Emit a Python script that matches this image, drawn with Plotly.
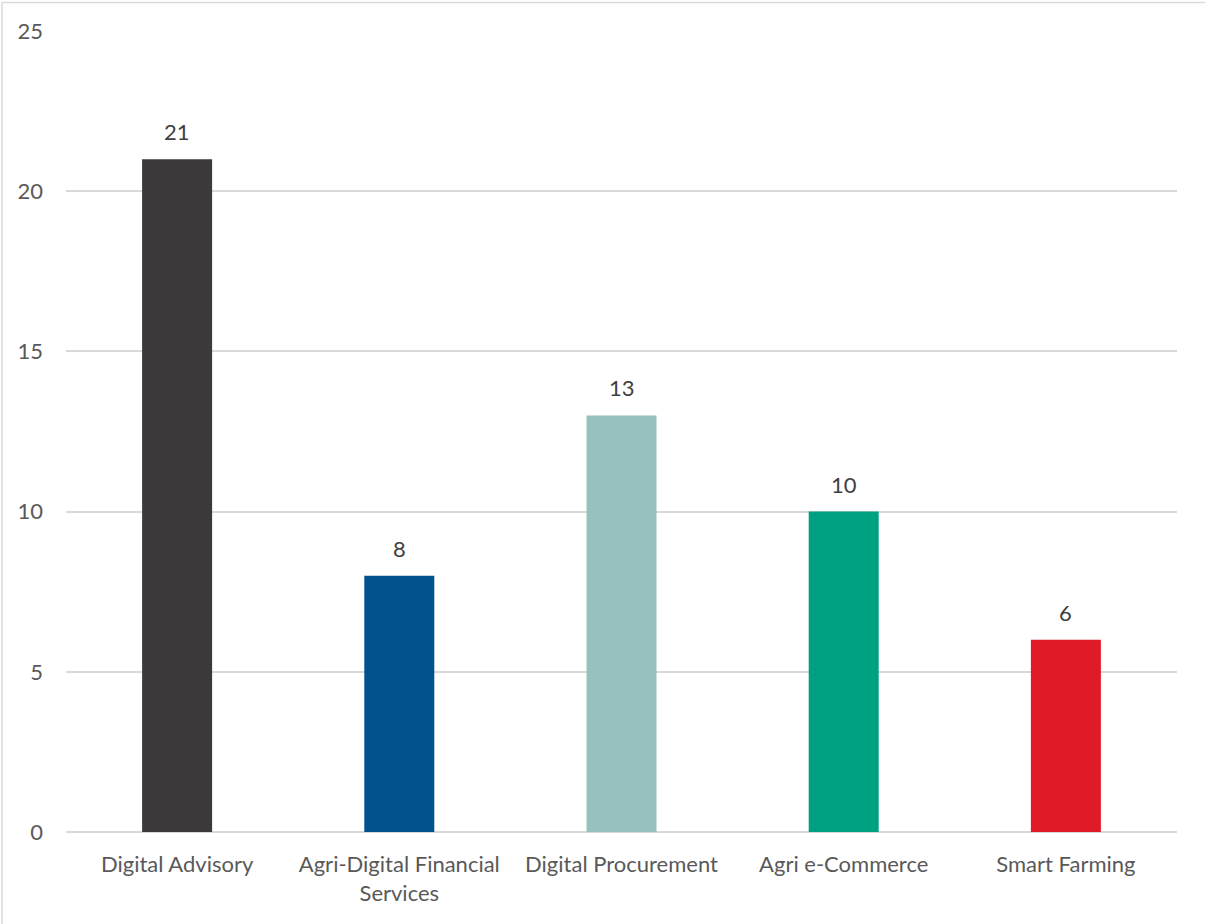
import plotly.graph_objects as go

categories = ["Digital Advisory", "Agri-Digital Financial<br>Services", "Digital Procurement",
              "Agri e-Commerce", "Smart Farming"]
values = [21, 8, 13, 10, 6]
colors = ["#3D3839", "#00538C", "#96C1BE", "#00A082", "#E01A27"]
y_ticks = [0, 5, 10, 15, 20, 25]

FONT = "Lato"
FS = 22

fig = go.Figure(go.Bar(
    x=categories, y=values, marker=dict(color=colors, line=dict(width=0)),
    width=0.315, hoverinfo="x+y",
))

for c, v in zip(categories, values):
    fig.add_annotation(x=c, y=v, text=str(v), showarrow=False, yanchor="bottom",
                       yshift=12, font=dict(family=FONT, size=FS, color="#404040"))

fig.update_layout(
    width=1205, height=924,
    margin=dict(l=66, r=28, t=31, b=92),
    paper_bgcolor="white", plot_bgcolor="white",
    showlegend=False,
    font=dict(family=FONT, size=FS, color="#595959"),
    xaxis=dict(showgrid=False, showline=False, ticks="", ticklabelstandoff=17,
               tickfont=dict(size=FS, color="#595959")),
    yaxis=dict(range=[0, 25], tickvals=y_ticks, showgrid=True, gridcolor="#D9D9D9", gridwidth=1.5,
               zeroline=True, zerolinecolor="#D9D9D9", zerolinewidth=1.5,
               showline=False, ticks="", ticklabelstandoff=22,
               tickfont=dict(size=FS, color="#595959")),
    shapes=[dict(type="rect", xref="paper", yref="paper",
                 x0=(2 - 66) / 1111, x1=(1210 - 66) / 1111,
                 y0=(832 - 930) / 801, y1=(832 - 2.5) / 801,
                 line=dict(color="#D9D9D9", width=1.5), layer="below")],
)

fig.write_html("out.html")
